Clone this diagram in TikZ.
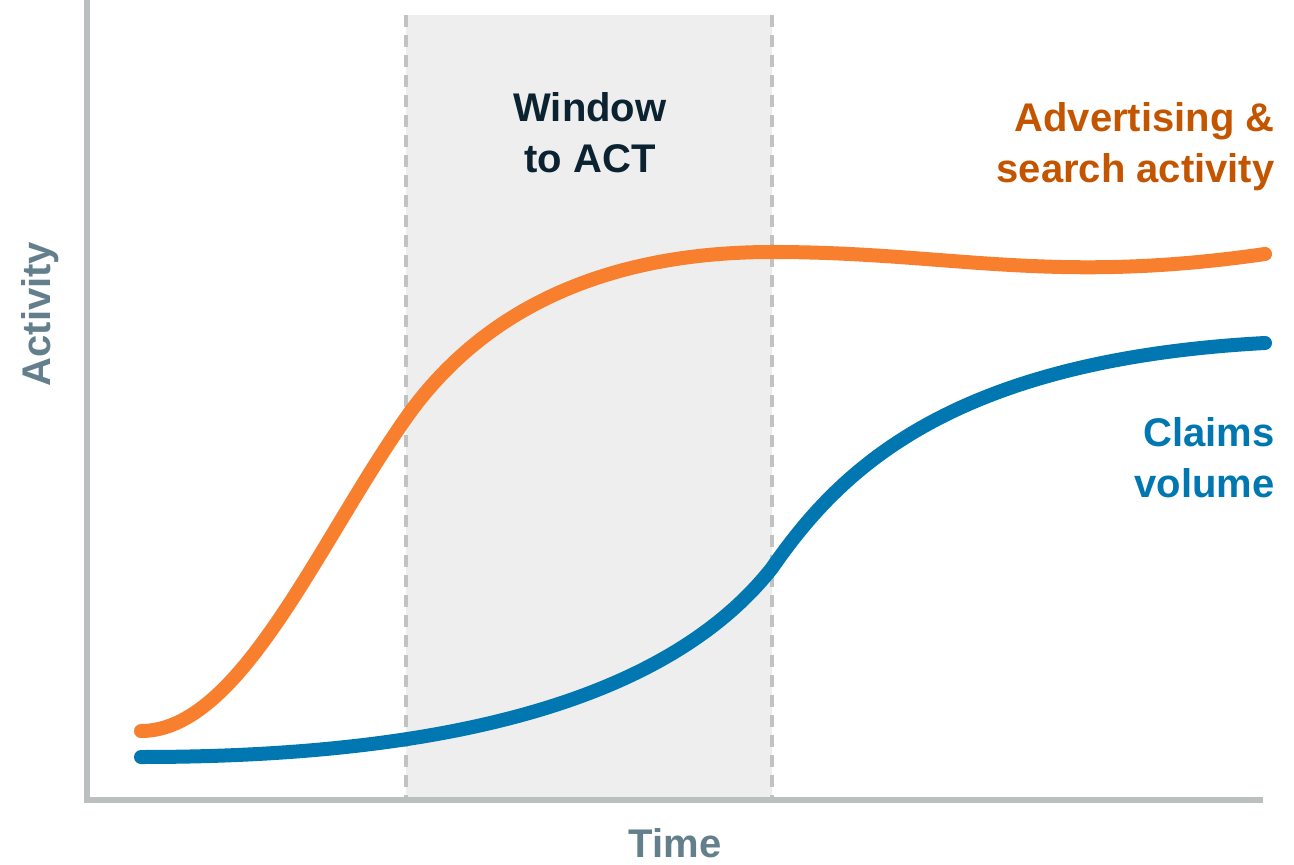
\documentclass[tikz,border=0pt]{standalone}
\usepackage{fontspec}
\setmainfont{Liberation Sans}

\definecolor{adorange}{HTML}{F77F2D}
\definecolor{adtext}{HTML}{C45500}
\definecolor{claimblue}{HTML}{0077B0}
\definecolor{navy}{HTML}{0B2231}
\definecolor{axisgray}{HTML}{BBBFBF}
\definecolor{dashgray}{HTML}{C2C2C2}
\definecolor{windowfill}{HTML}{EEEEEE}
\definecolor{slate}{HTML}{647F8C}

\begin{document}
\begin{tikzpicture}[x=0.5pt, y=-0.5pt,
	curve/.style = {line width=7pt, line cap=round},
	edge/.style = {line width=2pt, dashgray, dash pattern=on 6pt off 4pt},
	bigtext/.style = {font=\bfseries\fontsize{20}{25.5}\selectfont, inner sep=0pt}]
	\useasboundingbox (0,0) rectangle (1294,865);
	% window
	\fill[windowfill] (406,15) rectangle (772,800);
	\draw[edge] (406,15) -- (406,800);
	\draw[edge] (772,15) -- (772,800);
	% axes
	\draw[axisgray, line width=3pt] (87,0) -- (87,800) -- (1263,800);
	% curves
	\draw[curve, adorange] (141,731) .. controls (240,731) and (318,543) .. (406,418)
		.. controls (480,313) and (600,252) .. (772,252)
		.. controls (950,252) and (1050,285) .. (1265,254);
	\draw[curve, claimblue] (141,757) .. controls (420,757) and (660,710) .. (772,568)
		.. controls (840,470) and (950,360) .. (1265,343);
	% labels
	\node[bigtext, navy, align=center, anchor=base] (window) at (590,173) {Window\\to ACT};
	\node[bigtext, adtext, align=right, anchor=base east] (ads) at (1275,183) {Advertising \&\\search activity};
	\node[bigtext, claimblue, align=right, anchor=base east] (claims) at (1275,497) {Claims\\volume};
	\node[bigtext, slate, anchor=base] (time) at (675,857) {Time};
	\node[bigtext, slate, rotate=90, anchor=base] (activity) at (50,314) {Activity};
\end{tikzpicture}
\end{document}
